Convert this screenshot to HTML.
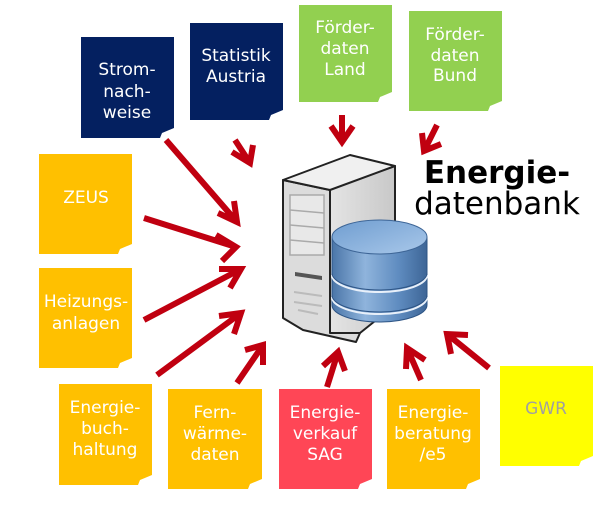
<!DOCTYPE html>
<html><head><meta charset="utf-8"><style>
html,body{margin:0;padding:0;background:#fff;}
svg{display:block;}
text{font-family:"DejaVu Sans","Liberation Sans",sans-serif;font-size:17px;fill:#fff;text-anchor:middle;}
</style></head><body>
<svg width="600" height="511" viewBox="0 0 600 511" xmlns="http://www.w3.org/2000/svg">
<defs>
<linearGradient id="db" x1="0" x2="1" y1="0" y2="0">
<stop offset="0" stop-color="#4a75a8"/><stop offset="0.35" stop-color="#8fb4dc"/><stop offset="0.7" stop-color="#5f8cc0"/><stop offset="1" stop-color="#3d6596"/>
</linearGradient>
<linearGradient id="dbt" x1="0" x2="1" y1="0" y2="1">
<stop offset="0" stop-color="#6f9dd0"/><stop offset="1" stop-color="#a9c8ea"/>
</linearGradient>
<linearGradient id="sf" x1="0" x2="1"><stop offset="0" stop-color="#e4e4e4"/><stop offset="1" stop-color="#c8c8c8"/></linearGradient>
</defs>
<g>
<rect x="81" y="37" width="93" height="101" fill="#042060"/>
<rect x="190" y="23" width="93" height="97" fill="#042060"/>
<rect x="299" y="5" width="93" height="97" fill="#92d050"/>
<rect x="409" y="11" width="93" height="100" fill="#92d050"/>
<rect x="39" y="154" width="93" height="100" fill="#ffc000"/>
<rect x="39" y="268" width="93" height="100" fill="#ffc000"/>
<rect x="59" y="384" width="93" height="101" fill="#ffc000"/>
<rect x="168" y="389" width="94" height="100" fill="#ffc000"/>
<rect x="279" y="389" width="93" height="100" fill="#ff4656"/>
<rect x="387" y="389" width="93" height="100" fill="#ffc000"/>
<rect x="500" y="366" width="93" height="100" fill="#ffff00"/>
</g>
<g fill="#fff">
<path d="M174 128 L162 133 L160 138 L174 138Z"/>
<path d="M283 110 L271 115 L269 120 L283 120Z"/>
<path d="M392 92 L380 97 L378 102 L392 102Z"/>
<path d="M502 101 L490 106 L488 111 L502 111Z"/>
<path d="M132 244 L120 249 L118 254 L132 254Z"/>
<path d="M132 358 L120 363 L118 368 L132 368Z"/>
<path d="M152 475 L140 480 L138 485 L152 485Z"/>
<path d="M262 479 L250 484 L248 489 L262 489Z"/>
<path d="M372 479 L360 484 L358 489 L372 489Z"/>
<path d="M480 479 L468 484 L466 489 L480 489Z"/>
<path d="M593 456 L581 461 L579 466 L593 466Z"/>
</g>
<g>
<text x="127" y="75">Strom-</text><text x="127" y="97">nach-</text><text x="127" y="118">weise</text>
<text x="236" y="61">Statistik</text><text x="236" y="82">Austria</text>
<text x="345" y="33">Förder-</text><text x="345" y="54">daten</text><text x="345" y="75">Land</text>
<text x="455" y="40">Förder-</text><text x="455" y="61">daten</text><text x="455" y="81">Bund</text>
<text x="86" y="203">ZEUS</text>
<text x="86" y="307">Heizungs-</text><text x="86" y="329">anlagen</text>
<text x="105" y="413">Energie-</text><text x="105" y="434">buch-</text><text x="105" y="455">haltung</text>
<text x="215" y="418">Fern-</text><text x="215" y="439">wärme-</text><text x="215" y="460">daten</text>
<text x="325" y="418">Energie-</text><text x="325" y="439">verkauf</text><text x="325" y="460">SAG</text>
<text x="433" y="418">Energie-</text><text x="433" y="439">beratung</text><text x="433" y="460">/e5</text>
<text x="546" y="414" style="fill:#a0a0a0">GWR</text>
</g>
<g stroke="#c00010" stroke-width="6" fill="none">
<path d="M166 140 L237 222 M218 213 L237 222 L234 201"/>
<path d="M235 140 L250 163 M232 152 L250 163 L253 145"/>
<path d="M342 115 L342 142 M331 126 L342 142 L353 126"/>
<path d="M437 125 L424 151 M422 133 L424 151 L441 144"/>
<path d="M144 218 L236 247 M216 235 L236 247 L222 261"/>
<path d="M144 320 L241 269 M219 269 L241 269 L230 288"/>
<path d="M157 375 L241 313 M219 316 L241 313 L234 334"/>
<path d="M237 383 L263 345 M245 350 L263 345 L263 365"/>
<path d="M327 387 L338 352 M323 366 L338 352 L345 371"/>
<path d="M421 380 L407 348 M406 369 L407 348 L425 360"/>
<path d="M489 368 L447 334 M451 354 L447 334 L468 335"/>
</g>
<g stroke="#222" stroke-width="2" stroke-linejoin="round">
<path d="M395 166 L395 305 L360 333 L330 333 L330 188 Z" fill="url(#sf)"/>
<path d="M283 180 L330 190 L330 333 L360 333 L356 342 L303 330 L283 318 Z" fill="#dcdcdc"/>
<path d="M283 180 L350 155 L395 166 L330 190 Z" fill="#f0f0f0"/>
</g>
<g stroke="#aaa" stroke-width="1.5" fill="none">
<rect x="290" y="195" width="34" height="60" fill="#e8e8e8"/>
<line x1="290" y1="210" x2="324" y2="213"/><line x1="290" y1="225" x2="324" y2="228"/><line x1="290" y1="240" x2="324" y2="243"/>
<path d="M294 292 L322 296 M294 302 L322 306 M298 310 L318 314" stroke="#bbb" stroke-width="2"/>
</g>
<path d="M295 272 L322 276 L322 280 L295 276Z" fill="#555"/>
<g>
<path d="M332 237 L332 305 A47.5 17 0 0 0 427 305 L427 237 Z" fill="url(#db)" stroke="#2d5485" stroke-width="1"/>
<path d="M332 275 A47.5 17 0 0 0 427 275" fill="none" stroke="#e8f0fa" stroke-width="2"/>
<path d="M332 297 A47.5 17 0 0 0 427 297" fill="none" stroke="#e8f0fa" stroke-width="2"/>
<path d="M332 273 A47.5 17 0 0 0 427 273" fill="none" stroke="#2d5485" stroke-width="1"/>
<path d="M332 295 A47.5 17 0 0 0 427 295" fill="none" stroke="#2d5485" stroke-width="1"/>
<ellipse cx="379.5" cy="237" rx="47.5" ry="17" fill="url(#dbt)" stroke="#3d6596" stroke-width="1"/>
</g>
<text x="497" y="183" style="fill:#000;font-size:31px;font-weight:bold">Energie-</text>
<text x="497" y="214" style="fill:#000;font-size:31px">datenbank</text>
</svg>
</body></html>
